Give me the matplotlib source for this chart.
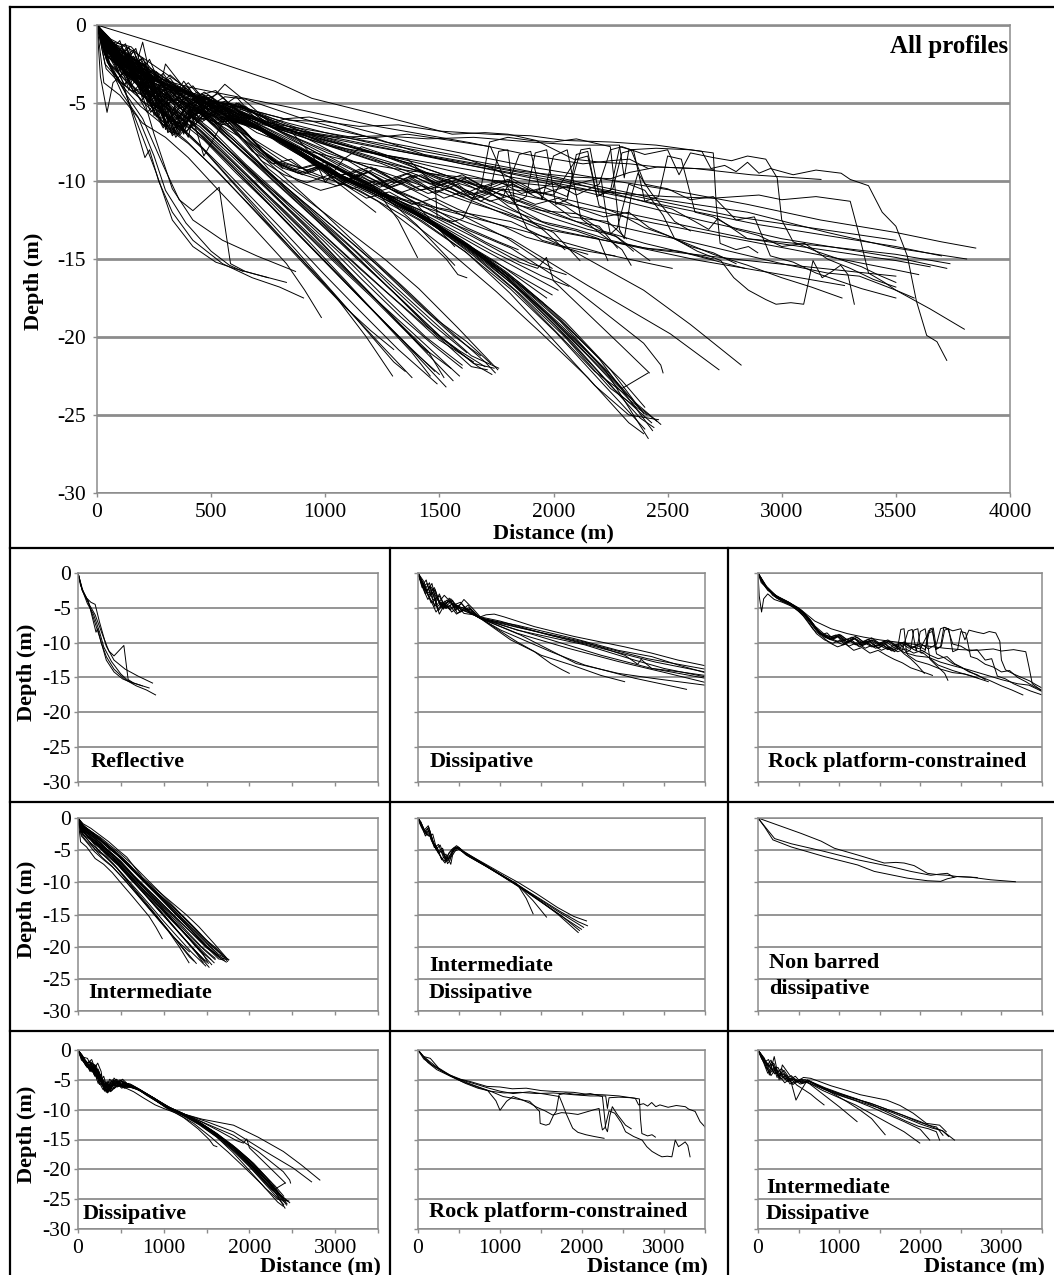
import matplotlib
matplotlib.use("Agg")
import matplotlib.pyplot as plt
from matplotlib.lines import Line2D
from matplotlib.ticker import MultipleLocator, FuncFormatter

plt.rcParams["font.family"] = ["Liberation Serif", "DejaVu Serif"]
plt.rcParams["axes.unicode_minus"] = False

# ---------------------------------------------------------------- data
# each profile is a list of (distance m, depth m) vertices

reflective = [
    [(0, 0), (30, -1.8), (100, -3.6), (150, -4.2), (200, -4.5), (250, -7.0), (330, -10.5), (420, -12.5),
     (550, -13.8), (700, -14.8), (870, -15.8)],
    [(0, 0), (50, -2.5), (120, -4.0), (170, -6.5), (210, -8.5), (230, -8.0), (270, -10.0), (330, -12.0),
     (420, -13.8), (550, -15.3), (680, -16.2), (800, -16.8), (905, -17.5)],
    [(0, 0), (60, -2.7), (130, -4.5), (200, -6.0), (290, -9.0), (360, -11.2), (420, -11.9), (535, -10.4),
     (585, -15.3), (650, -15.8), (750, -16.2)],
    [(0, 0), (50, -2.5), (120, -4.2), (200, -7.2), (260, -9.5), (330, -12.5), (420, -14.2), (520, -15.2),
     (600, -15.6), (700, -16.0), (830, -16.5)],
    [(0, 0), (45, -2.3), (110, -4.4), (180, -5.9), (250, -8.4), (300, -10.6), (390, -12.7), (500, -14.5),
     (580, -15.4), (640, -15.8)],
]

dissipative_a = [
    [(0, 0), (70, -1.2), (110, -2.6), (170, -1.5), (230, -4.6), (320, -3.2), (400, -4.2), (460, -5.4), (560, -3.8),
     (660, -5.0), (760, -6.3), (830, -6.0), (930, -5.9), (1050, -6.3), (1420, -7.7), (1900, -9.1), (2230, -9.9),
     (2520, -10.6), (2850, -11.5), (3170, -12.5), (3500, -13.3), (3700, -13.9), (3850, -14.3)],
    [(0, 0), (50, -1.8), (100, -1.0), (150, -3.2), (210, -2.4), (280, -5.0), (350, -3.9), (430, -4.6), (520, -4.2),
     (620, -5.6), (760, -6.5), (1210, -7.5), (1900, -9.4), (2440, -11.1), (2850, -12.0), (3200, -13.3),
     (3500, -14.3), (3810, -15.0)],
    [(0, 0), (60, -2.2), (120, -3.8), (180, -2.8), (250, -5.4), (330, -4.0), (410, -5.6), (500, -4.8), (600, -5.3),
     (700, -6.0), (780, -6.6), (1210, -7.8), (2030, -9.9), (2520, -11.8), (2620, -12.6), (2680, -13.1),
     (2720, -12.4), (2850, -13.7), (3200, -14.2), (3500, -14.7), (3737, -15.3)],
    [(0, 0), (40, -1.2), (90, -3.0), (140, -1.9), (200, -3.6), (260, -5.9), (330, -4.4), (400, -4.0), (480, -5.8),
     (560, -5.3), (650, -5.9), (760, -6.4), (1210, -8.2), (2030, -10.3), (2640, -12.5), (3000, -13.7),
     (3500, -14.9), (3723, -15.6)],
    [(0, 0), (80, -2.4), (140, -1.4), (200, -4.8), (260, -3.0), (330, -4.9), (420, -3.9), (510, -5.6), (610, -4.6),
     (700, -6.1), (770, -6.6), (1010, -7.45), (1620, -9.6), (2230, -11.8), (2850, -13.7), (3500, -15.1),
     (3650, -15.5)],
    [(0, 0), (60, -1.4), (130, -3.3), (190, -2.2), (250, -4.0), (310, -5.2), (380, -3.6), (450, -5.0), (530, -4.4),
     (630, -5.7), (760, -6.5), (1210, -8.65), (1830, -10.8), (2440, -12.7), (3050, -14.4), (3500, -15.7),
     (3600, -16.0)],
    [(0, 0), (70, -2.0), (150, -3.8), (230, -4.9), (300, -4.1), (390, -5.3), (470, -4.6), (570, -5.5), (680, -5.9),
     (760, -6.5), (1010, -8.2), (1620, -11.3), (2030, -13.2), (2640, -15.1), (3000, -16.0), (3275, -16.7)],
    [(0, 0), (50, -1.6), (120, -2.9), (200, -2.1), (270, -4.5), (350, -5.0), (440, -4.3), (540, -5.4), (650, -5.2),
     (760, -6.5), (1210, -9.9), (1500, -11.8), (1870, -13.2), (2230, -14.7), (2520, -15.6)],
    [(0, 0), (60, -1.9), (140, -3.5), (220, -5.6), (300, -4.3), (380, -5.1), (470, -4.6), (560, -5.8), (680, -6.0),
     (770, -6.6), (1130, -9.6), (1420, -11.3), (1620, -13.0), (1760, -13.9), (1845, -14.4)],
    [(0, 0), (90, -2.6), (160, -2.0), (240, -3.9), (320, -4.7), (400, -3.7), (480, -5.1), (560, -4.9), (650, -5.5),
     (760, -6.5), (1250, -8.9), (1930, -13.0), (2440, -14.4), (2850, -15.1), (3500, -16.1)],
    [(0, 0), (50, -2.1), (110, -1.5), (180, -3.9), (260, -3.3), (340, -5.1), (420, -4.4), (520, -5.6), (620, -5.0),
     (760, -6.4), (1100, -7.4), (1700, -9.2), (2300, -11.0), (2900, -12.8), (3500, -14.2), (3700, -14.8)],
    [(0, 0), (40, -0.9), (100, -2.4), (160, -4.3), (240, -3.6), (310, -5.0), (390, -4.7), (470, -5.9), (560, -5.1),
     (660, -5.8), (760, -6.3), (1000, -6.9), (1600, -8.9), (2200, -10.5), (2800, -12.3), (3500, -13.8)],
]

rock_platform_a = [
    [(0, 0), (60, -1.5), (120, -2.5), (230, -3.4), (390, -4.3), (520, -5.3), (640, -6.7), (730, -8.2), (810, -9.0),
     (900, -9.6), (980, -9.1), (1060, -10.2), (1150, -9.6), (1240, -10.4), (1330, -9.8), (1420, -10.6),
     (1510, -10.1), (1600, -10.9), (1690, -10.3), (1780, -11.0), (1850, -8.3), (1900, -8.1), (1950, -11.2),
     (2000, -8.4), (2060, -8.0), (2120, -12.4), (2200, -13.3), (2300, -14.4), (2340, -15.4)],
    [(0, 0), (40, -1.4), (100, -1.9), (180, -3.2), (300, -4.1), (420, -4.6), (560, -6.2), (680, -8.1), (770, -8.9),
     (850, -8.6), (930, -9.5), (1010, -9.0), (1100, -10.0), (1190, -9.4), (1280, -10.3), (1370, -9.7),
     (1460, -10.5), (1550, -10.0), (1640, -11.1), (1720, -10.7), (1800, -11.6), (1880, -12.3), (1960, -13.2),
     (2050, -14.4)],
    [(0, 0), (80, -1.7), (200, -3.1), (350, -4.0), (500, -5.0), (700, -6.9), (900, -8.0), (1100, -8.7),
     (1300, -9.2), (1500, -9.6), (1700, -9.9), (1900, -10.2), (2100, -10.5), (2300, -10.8), (2500, -11.0),
     (2700, -11.1), (2900, -10.9), (3000, -11.2), (3150, -11.0), (3300, -11.3), (3340, -13.5), (3380, -15.9),
     (3450, -16.5), (3500, -17.0), (3580, -17.5)],
    [(0, 0), (100, -1.9), (230, -3.4), (390, -4.3), (520, -5.3), (640, -6.7), (760, -8.6), (900, -9.4),
     (1000, -9.9), (1100, -9.5), (1200, -10.3), (1300, -9.9), (1400, -10.6), (1500, -10.4), (1600, -11.0),
     (1700, -10.6), (1800, -11.4), (1950, -11.9), (2100, -12.1), (2250, -12.8), (2400, -13.3), (2600, -13.9),
     (2800, -14.6), (3000, -15.3), (3200, -15.9), (3340, -16.1), (3500, -17.0), (3650, -18.2), (3800, -19.5)],
    [(0, 0), (90, -1.8), (220, -3.3), (380, -4.2), (540, -5.6), (700, -7.6), (820, -8.8), (920, -9.3),
     (1020, -8.9), (1120, -9.8), (1220, -9.2), (1320, -10.1), (1420, -9.6), (1520, -10.4), (1620, -9.8),
     (1720, -10.6), (1820, -10.2), (1920, -11.0), (2050, -11.6), (2216, -13.2), (2400, -14.0), (2600, -14.7),
     (2838, -15.6)],
    [(0, 0), (100, -2.0), (240, -3.5), (400, -4.4), (540, -5.4), (650, -6.8), (740, -8.3), (820, -9.2),
     (950, -9.8), (1050, -10.3), (1150, -9.8), (1250, -10.6), (1350, -10.1), (1450, -10.8), (1550, -10.4),
     (1650, -11.2), (1720, -10.8), (1760, -8.1), (1800, -8.0), (1830, -11.4), (1880, -11.0), (1920, -8.2),
     (1970, -8.0), (2010, -11.5), (2060, -11.2), (2100, -8.3), (2150, -8.1), (2190, -11.0), (2250, -10.6),
     (2290, -7.8), (2340, -8.0), (2400, -10.2), (2500, -10.5), (2600, -11.2), (2700, -11.0), (2800, -12.5),
     (2880, -12.3), (2950, -14.8), (3050, -15.2), (3150, -15.9), (3250, -16.4), (3350, -16.9), (3500, -17.5)],
    [(0, 0), (70, -1.6), (180, -3.0), (330, -4.0), (480, -5.0), (580, -6.0), (680, -7.6), (780, -8.8), (880, -9.5),
     (980, -9.0), (1080, -10.0), (1180, -9.3), (1280, -10.4), (1380, -9.9), (1480, -10.8), (1580, -10.2),
     (1680, -11.3), (1780, -10.5), (1850, -11.8), (1950, -12.6), (2100, -13.1), (2250, -13.8), (2400, -14.3),
     (2550, -14.5), (2700, -15.0)],
    [(0, 0), (110, -2.0), (250, -3.6), (410, -4.5), (530, -5.4), (660, -7.0), (760, -8.6), (860, -9.3),
     (960, -8.9), (1060, -9.7), (1160, -9.2), (1260, -10.0), (1360, -9.5), (1460, -10.2), (1560, -9.8),
     (1660, -10.5), (1760, -10.0), (1860, -10.8), (1960, -10.4), (2060, -11.0), (2120, -8.0), (2160, -7.9),
     (2200, -10.9), (2260, -10.5), (2300, -8.2), (2350, -8.0), (2400, -11.3), (2460, -11.0), (2500, -8.4),
     (2560, -8.6), (2620, -12.0), (2700, -12.3), (2800, -13.1), (2900, -13.5), (3000, -14.2), (3100, -14.0),
     (3200, -15.0), (3300, -15.6), (3400, -16.3), (3500, -16.8)],
    [(0, 0), (80, -1.8), (210, -3.3), (370, -4.2), (510, -5.2), (630, -6.6), (720, -8.0), (800, -8.9), (900, -9.5),
     (1000, -9.0), (1100, -9.9), (1200, -9.4), (1300, -10.1), (1400, -9.6), (1500, -10.3), (1600, -9.8),
     (1700, -10.6), (1800, -10.0), (1900, -10.8), (2000, -10.1), (2100, -10.9), (2200, -10.2), (2250, -8.0),
     (2300, -7.8), (2400, -8.3), (2500, -8.0), (2550, -9.6), (2600, -8.2), (2700, -8.5), (2780, -8.7),
     (2850, -8.4), (2930, -8.6), (2980, -9.8), (3000, -12.5), (3050, -13.9), (3150, -14.5), (3250, -15.0),
     (3350, -15.5), (3420, -16.0), (3500, -16.5)],
    [(0, 0), (100, -2.1), (230, -3.6), (380, -4.5), (520, -5.6), (620, -7.0), (720, -8.7), (820, -9.6),
     (920, -10.1), (1020, -9.6), (1120, -10.5), (1220, -10.0), (1320, -10.8), (1420, -10.3), (1520, -11.1),
     (1620, -10.6), (1720, -11.3), (1820, -10.9), (1920, -11.5), (2020, -11.1), (2120, -11.8), (2220, -12.3),
     (2330, -12.0), (2420, -13.0), (2550, -13.8), (2700, -14.7), (2850, -15.4), (3000, -16.2), (3130, -16.8),
     (3264, -17.5)],
    [(0, 0), (60, -1.6), (150, -2.6), (280, -3.7), (420, -4.6), (560, -5.8), (700, -8.0), (780, -9.0),
     (880, -10.0), (980, -10.6), (1080, -10.2), (1180, -11.1), (1280, -10.7), (1380, -11.5), (1480, -11.1),
     (1580, -11.8), (1680, -12.4), (1780, -12.9), (1880, -13.6), (1980, -14.0), (2080, -14.4), (2150, -14.7)],
    [(0, 0), (15, -3.3), (44, -5.6), (70, -3.7), (120, -3.0), (200, -3.8), (300, -4.2), (420, -4.8), (560, -6.0),
     (700, -7.8), (800, -8.8), (900, -9.2), (1000, -8.8), (1100, -9.6), (1200, -9.1), (1300, -9.9), (1400, -9.3),
     (1500, -10.1), (1600, -9.6), (1700, -10.4), (1800, -9.9), (1900, -10.6), (2000, -10.9), (2100, -8.6),
     (2150, -8.4), (2200, -11.6), (2300, -12.2), (2400, -13.0), (2500, -13.5), (2600, -14.2), (2700, -14.6),
     (2800, -15.3)],
]

intermediate = [
    [(0, 0), (60, -0.9), (150, -1.6), (250, -2.6), (360, -3.7), (470, -5.0), (570, -6.1), (750, -9.2), (920, -11.2),
     (1100, -13.2), (1260, -15.0), (1410, -16.9), (1580, -19.4), (1756, -22.1)],
    [(0, 0), (50, -1.2), (140, -2.0), (230, -2.9), (340, -4.5), (450, -5.6), (600, -7.4), (780, -9.8), (950, -11.9),
     (1120, -14.0), (1300, -16.3), (1480, -18.8), (1620, -20.3), (1725, -21.7)],
    [(0, 0), (40, -1.5), (120, -2.4), (210, -3.1), (300, -4.7), (420, -5.9), (560, -7.8), (720, -10.0), (900, -12.2),
     (1080, -14.6), (1260, -17.0), (1440, -19.3), (1590, -20.9), (1700, -21.9)],
    [(0, 0), (70, -1.8), (160, -2.7), (260, -3.9), (380, -5.3), (500, -6.7), (650, -8.9), (800, -10.9), (980, -13.3),
     (1150, -15.6), (1320, -17.8), (1500, -20.2), (1650, -21.6)],
    [(0, 0), (30, -1.3), (100, -2.2), (190, -3.8), (280, -4.3), (390, -5.9), (520, -7.6), (680, -9.9), (850, -12.4),
     (1020, -14.8), (1200, -17.3), (1380, -19.7), (1588, -22.5)],
    [(0, 0), (50, -2.0), (130, -3.1), (220, -4.2), (320, -5.5), (430, -6.7), (560, -8.6), (700, -10.7), (860, -13.1),
     (1020, -15.5), (1180, -17.9), (1350, -20.4), (1529, -23.2)],
    [(0, 0), (40, -2.2), (110, -3.3), (200, -4.9), (300, -5.8), (410, -7.1), (540, -9.0), (680, -11.1), (830, -13.4),
     (990, -15.9), (1150, -18.3), (1320, -20.8), (1490, -23.0)],
    [(0, 0), (30, -3.7), (100, -4.5), (200, -6.3), (300, -7.2), (400, -8.5), (520, -10.4), (630, -12.1), (730, -13.7),
     (830, -15.3), (910, -17.0), (983, -18.75)],
    [(0, 0), (60, -2.6), (150, -3.4), (240, -5.0), (340, -6.3), (460, -7.9), (600, -10.2), (750, -12.7), (900, -15.1),
     (1050, -17.5), (1180, -20.0), (1295, -22.5)],
    [(0, 0), (80, -1.4), (180, -2.3), (290, -3.5), (400, -4.9), (520, -6.3), (680, -8.5), (860, -10.8), (1040, -13.0),
     (1220, -15.3), (1400, -17.8), (1560, -19.9), (1680, -21.2)],
    [(0, 0), (50, -1.0), (130, -1.9), (240, -3.2), (350, -4.3), (470, -5.8), (620, -7.9), (790, -10.0), (960, -12.3),
     (1130, -14.5), (1300, -16.9), (1470, -19.2), (1620, -21.0)],
    [(0, 0), (45, -1.7), (120, -2.9), (210, -3.6), (310, -5.1), (420, -6.3), (560, -8.3), (720, -10.6), (880, -12.9),
     (1040, -15.2), (1200, -17.4), (1330, -19.3), (1450, -21.0)],
    [(0, 0), (70, -2.3), (160, -3.6), (250, -4.6), (350, -6.0), (470, -7.4), (610, -9.5), (760, -11.6), (920, -14.0),
     (1080, -16.4), (1230, -18.6), (1360, -20.5), (1480, -22.2)],
    [(0, 0), (35, -1.9), (90, -2.6), (180, -3.4), (260, -4.4), (370, -5.7), (500, -7.5), (660, -9.7), (830, -12.0),
     (1000, -14.4), (1170, -16.8), (1330, -19.2), (1450, -20.9), (1520, -22.6)],
    [(0, 0), (50, -1.3), (140, -2.3), (240, -3.3), (350, -4.6), (460, -5.8), (610, -7.8), (780, -10.1), (960, -12.5),
     (1140, -15.0), (1320, -17.4), (1500, -19.9), (1650, -21.7), (1740, -22.0)],
    [(0, 0), (60, -1.5), (160, -2.8), (270, -3.9), (380, -5.5), (500, -6.9), (650, -9.1), (820, -11.5), (990, -13.8),
     (1160, -16.3), (1330, -18.7), (1480, -20.6), (1600, -22.0)],
    [(0, 0), (40, -2.8), (110, -3.9), (190, -5.2), (290, -6.4), (400, -7.6), (530, -9.4), (670, -11.6), (810, -13.8),
     (950, -16.0), (1080, -18.0), (1200, -19.6), (1300, -20.8)],
    [(0, 0), (55, -1.1), (150, -2.1), (260, -3.0), (370, -4.2), (490, -5.5), (640, -7.3), (810, -9.6), (990, -12.0),
     (1170, -14.5), (1350, -16.9), (1530, -19.4), (1700, -21.6), (1745, -22.3)],
    [(0, 0), (65, -2.0), (150, -2.9), (250, -4.3), (360, -5.1), (480, -6.6), (630, -8.8), (790, -11.1), (950, -13.4),
     (1110, -15.9), (1270, -18.3), (1420, -20.6), (1550, -22.0)],
    [(0, 0), (45, -2.4), (120, -3.5), (220, -4.8), (330, -6.0), (450, -7.7), (580, -9.8), (720, -12.0), (870, -14.4),
     (1020, -16.9), (1170, -19.4), (1300, -21.6), (1350, -22.2)],
    [(0, 0), (55, -1.6), (140, -2.5), (235, -3.7), (340, -5.0), (455, -6.4), (600, -8.3), (760, -10.5), (930, -12.8),
     (1100, -15.1), (1270, -17.6), (1440, -20.0), (1600, -21.8)],
    [(0, 0), (45, -2.0), (125, -3.0), (215, -4.0), (320, -5.3), (440, -6.9), (580, -8.9), (730, -11.1), (890, -13.5),
     (1050, -15.9), (1210, -18.3), (1370, -20.7), (1500, -22.4)],
    [(0, 0), (60, -1.3), (150, -2.2), (250, -3.4), (360, -4.7), (480, -6.0), (630, -8.0), (800, -10.3), (970, -12.6),
     (1140, -14.9), (1310, -17.3), (1480, -19.8), (1640, -21.9), (1710, -22.1)],
    [(0, 0), (35, -2.5), (100, -3.6), (180, -4.6), (280, -6.1), (390, -7.4), (520, -9.3), (660, -11.4), (810, -13.7),
     (960, -16.0), (1110, -18.4), (1250, -20.6), (1380, -22.6)],
    [(0, 0), (70, -1.6), (170, -2.5), (280, -3.6), (390, -4.8), (510, -6.2), (660, -8.2), (830, -10.6), (1000, -12.9),
     (1170, -15.3), (1340, -17.7), (1510, -20.1), (1670, -21.9), (1730, -22.4)],
    [(0, 0), (50, -1.8), (130, -2.6), (225, -3.8), (330, -5.4), (450, -6.5), (590, -8.4), (750, -10.6), (910, -12.9),
     (1070, -15.3), (1230, -17.7), (1390, -20.2), (1560, -22.8)],
    [(0, 0), (40, -1.0), (120, -2.1), (220, -3.1), (330, -4.0), (440, -5.2), (590, -7.1), (760, -9.5), (940, -11.9),
     (1120, -14.3), (1300, -16.7), (1480, -19.1), (1640, -21.2), (1760, -22.0)],
    [(0, 0), (65, -2.2), (150, -3.2), (245, -4.5), (350, -5.8), (470, -7.2), (610, -9.2), (770, -11.5), (930, -13.9),
     (1090, -16.4), (1240, -18.8), (1380, -21.0), (1460, -22.5)],
]

inter_dissipative_a = [
    [(0, 0), (40, -0.8), (80, -2.1), (120, -1.6), (160, -3.4), (240, -5.2), (300, -4.7), (360, -7.1), (390, -6.6),
     (430, -4.7), (490, -4.5), (570, -5.5), (810, -7.3), (1020, -8.9), (1220, -10.5), (1320, -12.5), (1404, -14.9)],
    [(0, 0), (30, -1.1), (70, -1.7), (110, -2.7), (150, -2.2), (200, -4.4), (260, -5.7), (320, -6.7), (350, -6.0),
     (410, -4.9), (470, -4.3), (560, -5.2), (800, -7.1), (1000, -8.7), (1200, -10.2), (1400, -12.8), (1567, -15.4)],
    [(0, 0), (50, -1.3), (90, -2.8), (130, -2.0), (180, -3.9), (230, -4.5), (280, -6.2), (330, -7.0), (380, -5.4),
     (440, -4.8), (500, -4.6), (580, -5.7), (820, -7.4), (1030, -9.0), (1230, -10.6), (1450, -12.5), (1700, -14.9),
     (1954, -17.8)],
    [(0, 0), (35, -0.6), (75, -1.9), (125, -1.2), (170, -3.2), (220, -4.9), (270, -4.2), (320, -5.9), (370, -6.4),
     (420, -5.0), (480, -4.7), (560, -5.3), (800, -7.0), (1020, -8.6), (1220, -10.0), (1450, -11.8), (1700, -13.9),
     (1900, -15.3), (2055, -16.0)],
    [(0, 0), (45, -1.0), (95, -2.3), (140, -1.8), (190, -4.0), (250, -5.5), (300, -5.0), (340, -6.8), (400, -5.9),
     (450, -4.6), (520, -5.0), (600, -5.8), (830, -7.5), (1040, -9.1), (1250, -10.7), (1480, -12.5), (1730, -14.5),
     (1950, -16.1), (2067, -16.75)],
    [(0, 0), (40, -1.4), (85, -2.5), (130, -1.4), (180, -3.6), (240, -4.8), (290, -6.5), (340, -5.6), (400, -7.2),
     (430, -5.2), (500, -4.9), (580, -5.6), (820, -7.4), (1020, -9.0), (1230, -10.7), (1470, -12.8), (1720, -15.0),
     (1994, -17.3)],
    [(0, 0), (30, -0.7), (80, -1.9), (130, -2.8), (180, -2.5), (230, -5.0), (290, -5.3), (350, -6.4), (410, -5.5),
     (470, -4.5), (540, -5.2), (620, -6.0), (840, -7.6), (1050, -9.2), (1260, -10.9), (1500, -13.0), (1750, -15.2),
     (1970, -17.5)],
    [(0, 0), (50, -1.5), (100, -2.4), (150, -2.9), (200, -4.6), (250, -4.1), (310, -6.1), (360, -6.7), (420, -5.8),
     (480, -4.6), (560, -5.3), (800, -7.2), (1010, -8.8), (1210, -10.3), (1440, -12.3), (1680, -14.3), (1880, -15.9),
     (2020, -17.0)],
]

non_barred = [
    [(0, 0), (532, -2.4), (778, -3.6), (941, -4.7), (1228, -5.75), (1556, -7.0), (1700, -6.9), (1801, -7.0),
     (1924, -7.4), (2088, -8.6), (2210, -8.8), (2333, -8.9), (2456, -9.1), (2620, -9.2), (2865, -9.6),
     (3172, -9.9)],
    [(0, 0), (102, -1.6), (205, -3.2), (409, -4.0), (819, -5.2), (1228, -6.5), (1637, -7.55), (1883, -8.3),
     (2129, -8.9), (2250, -8.7), (2333, -8.6), (2415, -9.2)],
    [(0, 0), (82, -1.4), (184, -3.4), (409, -4.5), (819, -6.0), (1228, -7.3), (1433, -8.3), (1842, -9.35),
     (2088, -9.75), (2251, -9.85), (2333, -9.45), (2456, -9.1), (2702, -9.25)],
]

dissipative_b = [
    [(0, 0), (60, -1.2), (110, -1.4), (150, -2.6), (190, -3.1), (230, -2.2), (270, -3.6), (300, -6.7), (340, -5.2),
     (380, -7.0), (420, -4.7), (480, -5.6), (540, -6.4), (650, -6.1), (800, -7.6), (1000, -9.3), (1200, -10.6),
     (1450, -11.6), (1814, -12.6), (2100, -14.6), (2395, -17.0), (2600, -19.2), (2822, -21.8)],
    [(0, 0), (50, -1.6), (100, -2.4), (140, -1.9), (190, -4.2), (240, -3.5), (290, -5.4), (330, -6.2), (370, -4.9),
     (430, -5.8), (500, -5.1), (580, -5.9), (680, -6.3), (850, -7.9), (1050, -9.5), (1250, -10.8), (1500, -12.0),
     (1814, -13.7), (2150, -16.7), (2512, -19.8), (2725, -22.1)],
    [(0, 0), (40, -0.9), (90, -2.0), (130, -3.1), (180, -2.6), (220, -4.8), (270, -4.0), (310, -6.9), (350, -6.5),
     (400, -5.0), (460, -5.5), (520, -4.9), (600, -6.0), (700, -6.6), (880, -8.0), (1080, -9.7), (1280, -11.0),
     (1520, -12.5), (1814, -14.3), (2100, -17.0), (2395, -20.4), (2470, -21.8), (2480, -22.3)],
    [(0, 0), (70, -1.8), (120, -2.9), (170, -2.2), (230, -3.9), (280, -6.0), (320, -5.4), (360, -6.8), (410, -5.5),
     (470, -6.1), (550, -5.4), (640, -6.3), (750, -6.9), (900, -8.2), (1050, -9.6), (1250, -10.9), (1450, -12.4),
     (1650, -14.4), (1850, -16.5), (2050, -19.0), (2250, -22.1), (2395, -24.9)],
    [(0, 0), (45, -1.3), (100, -2.7), (150, -3.4), (200, -2.9), (250, -4.6), (300, -6.4), (340, -6.9), (390, -5.6),
     (450, -4.9), (510, -5.8), (590, -5.6), (690, -6.5), (850, -7.8), (1000, -9.3), (1200, -10.6), (1400, -12.0),
     (1600, -13.8), (1800, -15.9), (2000, -18.4), (2200, -21.4), (2434, -26.0)],
    [(0, 0), (55, -1.0), (105, -2.2), (160, -1.6), (210, -3.6), (260, -5.3), (300, -4.4), (345, -6.6), (400, -6.1),
     (460, -5.2), (530, -6.0), (610, -5.7), (720, -6.6), (880, -8.0), (1040, -9.5), (1230, -10.8), (1430, -12.2),
     (1630, -14.1), (1830, -16.4), (2030, -19.0), (2230, -22.2), (2415, -26.5)],
    [(0, 0), (35, -1.1), (85, -1.8), (135, -2.9), (185, -3.4), (235, -5.6), (285, -4.8), (330, -7.1), (375, -6.4),
     (430, -5.7), (490, -5.0), (570, -6.1), (680, -6.4), (840, -7.7), (1010, -9.4), (1200, -10.7), (1400, -12.2),
     (1600, -14.0), (1780, -16.0), (1960, -18.4), (2150, -21.2), (2330, -24.0), (2453, -25.4)],
    [(0, 0), (65, -1.5), (115, -2.5), (165, -3.7), (215, -3.0), (265, -5.1), (315, -6.0), (365, -5.3), (420, -6.5),
     (480, -5.6), (550, -6.2), (630, -5.9), (730, -6.7), (890, -8.1), (1060, -9.7), (1260, -11.0), (1460, -12.7),
     (1650, -14.8), (1830, -17.0), (2000, -19.5), (2180, -22.2), (2318, -23.7)],
    [(0, 0), (50, -1.7), (95, -2.3), (150, -2.0), (195, -4.4), (245, -3.7), (290, -5.9), (335, -6.7), (385, -5.2),
     (440, -6.1), (500, -5.3), (570, -5.9), (680, -6.4), (840, -7.8), (1000, -9.3), (1200, -10.5), (1380, -11.8),
     (1560, -13.5), (1750, -15.6), (1950, -18.2), (2150, -21.0), (2300, -23.3), (2415, -22.3)],
    [(0, 0), (40, -1.4), (90, -2.6), (140, -3.3), (190, -2.4), (240, -4.3), (295, -6.1), (340, -5.7), (390, -6.9),
     (450, -5.4), (520, -5.9), (600, -6.2), (710, -6.6), (870, -8.0), (1030, -9.5), (1220, -10.7), (1420, -12.3),
     (1620, -14.3), (1820, -16.6), (2010, -19.3), (2200, -22.3), (2380, -25.2), (2440, -25.8)],
    [(0, 0), (60, -1.9), (110, -2.8), (160, -2.3), (205, -4.1), (255, -4.7), (305, -6.3), (350, -6.0), (400, -5.2),
     (460, -6.2), (530, -5.5), (610, -6.1), (720, -6.8), (880, -8.2), (1040, -9.8), (1230, -11.3), (1400, -13.2),
     (1530, -15.0), (1581, -16.0), (1620, -16.2)],
    [(0, 0), (55, -1.2), (100, -2.0), (150, -3.0), (200, -3.5), (250, -5.0), (300, -5.6), (350, -7.0), (400, -6.0),
     (460, -5.4), (530, -6.3), (620, -6.0), (730, -6.9), (890, -8.1), (1050, -9.5), (1250, -10.8), (1450, -12.1),
     (1650, -13.6), (1850, -15.2), (1930, -15.6), (1969, -14.9), (2000, -16.4), (2150, -18.5), (2300, -20.6),
     (2420, -22.3)],
    [(0, 0), (45, -0.8), (90, -2.2), (140, -2.7), (185, -3.8), (235, -3.2), (285, -5.5), (330, -6.3), (380, -6.6),
     (430, -5.1), (500, -5.7), (580, -6.0), (690, -6.5), (850, -7.9), (1010, -9.4), (1200, -10.6), (1400, -12.1),
     (1600, -13.9), (1800, -16.2), (2000, -18.9), (2200, -21.9), (2350, -24.1), (2470, -25.6)],
    [(0, 0), (50, -1.5), (105, -2.9), (155, -2.1), (205, -3.0), (250, -5.8), (300, -5.0), (345, -6.4), (395, -6.8),
     (450, -5.8), (520, -5.2), (600, -6.0), (700, -6.5), (860, -8.0), (1020, -9.6), (1210, -10.9), (1410, -12.5),
     (1610, -14.5), (1810, -16.9), (2010, -19.7), (2210, -22.9), (2400, -25.9)],
    [(0, 0), (40, -1.0), (95, -1.9), (145, -3.5), (195, -2.8), (245, -4.4), (295, -5.2), (345, -7.2), (390, -6.3),
     (445, -5.5), (510, -6.4), (590, -5.8), (700, -6.6), (860, -8.1), (1020, -9.5), (1210, -10.8), (1400, -12.2),
     (1590, -13.9), (1780, -15.8), (1970, -18.1), (2160, -20.8), (2300, -22.8), (2400, -24.5)],
    [(0, 0), (60, -1.6), (110, -2.4), (165, -3.1), (210, -2.5), (260, -4.9), (310, -6.5), (355, -5.8), (405, -6.6),
     (465, -6.0), (540, -5.6), (620, -6.3), (730, -6.8), (890, -8.2), (1050, -9.7), (1240, -11.0), (1430, -12.6),
     (1620, -14.6), (1810, -17.2), (2000, -20.2), (2180, -23.1), (2330, -25.0), (2460, -25.3)],
    [(0, 0), (50, -1.4), (100, -2.7), (150, -3.2), (200, -4.3), (250, -4.6), (300, -5.8), (350, -6.3), (400, -5.9),
     (470, -6.0), (560, -6.4), (650, -7.0), (760, -8.0), (900, -9.2), (1000, -9.8), (1150, -10.6), (1350, -12.3),
     (1550, -14.6), (1750, -17.1), (1950, -19.8), (2150, -22.6), (2330, -25.5), (2395, -26.2)],
    [(0, 0), (50, -1.2), (100, -2.5), (150, -2.9), (200, -4.1), (260, -5.2), (310, -6.0), (360, -6.3), (410, -5.4),
     (480, -5.7), (560, -6.0), (660, -6.4), (780, -7.2), (940, -8.6), (1100, -9.9), (1290, -11.2), (1490, -12.9),
     (1690, -15.0), (1890, -17.5), (2080, -20.3), (2270, -23.4), (2430, -25.5)],
    [(0, 0), (40, -1.7), (90, -2.1), (140, -3.6), (190, -3.0), (240, -5.2), (290, -6.6), (340, -5.5), (390, -6.2),
     (440, -5.3), (510, -6.1), (600, -6.0), (720, -6.7), (880, -8.0), (1040, -9.5), (1230, -10.8), (1430, -12.3),
     (1630, -14.2), (1830, -16.5), (2030, -19.2), (2230, -22.1), (2380, -24.6)],
    [(0, 0), (55, -1.4), (110, -2.1), (160, -3.5), (210, -3.9), (260, -4.8), (310, -6.8), (360, -7.0), (410, -5.8),
     (470, -5.5), (540, -6.2), (630, -6.1), (740, -6.9), (900, -8.2), (1060, -9.6), (1250, -10.9), (1450, -12.6),
     (1650, -14.7), (1850, -17.2), (2050, -20.0), (2250, -23.3), (2410, -25.0)],
]

rock_platform_b = [
    [(0, 0), (70, -1.1), (150, -1.4), (250, -3.0), (390, -4.2), (520, -4.9), (640, -5.3), (840, -6.1), (1000, -6.2),
     (1150, -6.5), (1320, -6.4), (1500, -6.8), (1720, -7.0), (1900, -7.1), (2050, -7.4), (2250, -7.5), (2450, -7.7),
     (2650, -8.1), (2690, -9.2), (2750, -9.0), (2800, -9.4), (2850, -8.8), (2900, -9.5), (2950, -9.2),
     (3050, -9.6), (3150, -9.3), (3260, -9.5), (3300, -9.9), (3380, -10.3), (3440, -12.0), (3500, -12.9),
     (3550, -14.8), (3590, -17.7), (3635, -19.9), (3680, -20.3), (3723, -21.5)],
    [(0, 0), (60, -1.0), (140, -1.9), (260, -3.2), (400, -4.4), (550, -5.1), (700, -5.7), (840, -6.3), (1000, -6.9),
     (1160, -7.3), (1360, -7.0), (1550, -7.4), (1724, -7.8), (1760, -9.0), (1805, -10.6), (1850, -12.0),
     (1886, -13.1), (1950, -13.8), (2047, -14.2), (2150, -14.5), (2269, -14.8)],
    [(0, 0), (80, -1.3), (170, -2.5), (300, -3.6), (450, -4.6), (600, -5.5), (760, -6.3), (900, -7.0), (1038, -7.8),
     (1200, -8.2), (1361, -8.6), (1420, -9.4), (1482, -10.3), (1490, -12.3), (1560, -12.6), (1603, -12.4),
     (1650, -11.0), (1684, -10.3), (1720, -7.5), (1800, -7.2), (1900, -7.4), (2000, -7.5), (2100, -7.3),
     (2249, -7.8), (2270, -10.5), (2289, -13.1), (2310, -13.7), (2340, -11.0), (2370, -9.5), (2430, -10.8),
     (2531, -12.6), (2600, -13.2)],
    [(0, 0), (50, -0.9), (120, -2.1), (230, -3.3), (380, -4.3), (540, -5.3), (700, -6.1), (850, -6.8), (950, -8.5),
     (1000, -10.1), (1080, -8.6), (1159, -7.8), (1260, -8.3), (1361, -8.9), (1450, -9.6), (1550, -10.2),
     (1643, -10.9), (1750, -10.5), (1845, -10.6), (1950, -10.8), (2050, -10.4), (2150, -10.0), (2208, -9.8),
     (2230, -12.0), (2249, -13.4), (2280, -13.0), (2330, -10.2), (2400, -10.6), (2480, -12.2), (2531, -13.7),
     (2630, -14.5), (2733, -15.1), (2790, -16.2), (2854, -17.0), (2930, -17.6), (2975, -17.9), (3040, -17.8),
     (3096, -17.9), (3137, -15.1), (3177, -16.2), (3220, -15.8), (3258, -15.4), (3290, -16.0), (3318, -17.9)],
    [(0, 0), (70, -1.5), (160, -2.4), (290, -3.5), (430, -4.6), (580, -5.6), (730, -6.4), (880, -6.9),
     (1050, -7.2), (1250, -7.1), (1450, -7.3), (1650, -7.2), (1900, -7.5), (2100, -7.7), (2289, -7.7),
     (2310, -9.8), (2330, -8.0), (2450, -7.9), (2600, -8.0), (2700, -8.2), (2713, -11.5), (2730, -14.0),
     (2800, -14.4), (2854, -14.2), (2895, -14.6)],
]

inter_dissipative_b = [
    [(0, 0), (80, -1.4), (140, -4.2), (200, -1.1), (260, -5.0), (300, -2.5), (390, -4.2), (470, -5.4), (560, -4.6),
     (650, -4.75), (900, -6.0), (1100, -6.8), (1262, -7.5), (1587, -8.4), (1750, -9.3), (1913, -10.6),
     (2076, -12.3), (2238, -12.6), (2320, -13.7)],
    [(0, 0), (50, -1.0), (110, -2.6), (160, -1.7), (230, -3.9), (290, -3.1), (360, -4.6), (430, -5.8), (520, -4.9),
     (610, -5.1), (800, -6.3), (1000, -7.4), (1200, -8.2), (1400, -9.0), (1600, -10.0), (1800, -11.0),
     (2000, -12.0), (2150, -12.9), (2280, -13.6), (2422, -15.1)],
    [(0, 0), (60, -1.8), (120, -3.9), (180, -2.3), (240, -4.3), (320, -3.4), (400, -5.0), (468, -8.4), (530, -6.8),
     (610, -5.0), (800, -6.5), (1000, -7.6), (1200, -8.5), (1400, -9.6), (1600, -10.8), (1800, -12.0),
     (2000, -13.3), (2116, -15.1)],
    [(0, 0), (40, -0.9), (100, -2.9), (150, -3.9), (210, -2.8), (280, -4.9), (350, -4.2), (420, -5.6), (500, -5.1),
     (600, -5.3), (800, -7.4), (1000, -9.5), (1221, -12.0)],
    [(0, 0), (70, -2.1), (130, -1.6), (190, -3.6), (250, -4.1), (330, -5.5), (400, -4.7), (480, -5.9), (560, -6.6),
     (650, -7.4), (720, -8.2), (814, -9.2)],
    [(0, 0), (55, -1.2), (110, -3.2), (170, -2.0), (235, -4.6), (300, -3.8), (380, -5.2), (450, -4.8), (530, -5.5),
     (620, -5.2), (800, -6.4), (950, -7.5), (1100, -8.7), (1250, -10.0), (1400, -11.5), (1567, -14.2)],
    [(0, 0), (45, -1.5), (105, -2.2), (160, -4.3), (220, -3.1), (290, -4.4), (370, -5.3), (440, -4.9), (520, -5.7),
     (610, -5.4), (800, -6.8), (1000, -8.0), (1200, -9.2), (1400, -10.7), (1600, -12.2), (1800, -13.7),
     (1994, -15.6)],
    [(0, 0), (65, -1.3), (125, -2.4), (185, -3.4), (245, -2.9), (310, -4.6), (385, -5.0), (460, -4.4), (540, -5.6),
     (620, -5.1), (820, -6.3), (1020, -7.3), (1220, -8.2), (1420, -9.3), (1620, -10.6), (1820, -11.9),
     (1980, -12.8), (2100, -13.2), (2198, -13.7), (2238, -15.1)],
    [(0, 0), (35, -0.7), (95, -2.0), (150, -3.0), (205, -4.0), (265, -3.4), (335, -4.9), (410, -4.3), (490, -5.4),
     (580, -5.0), (780, -6.2), (980, -7.2), (1180, -8.1), (1380, -8.9), (1580, -9.9), (1780, -10.9),
     (1950, -11.9), (2100, -12.6), (2200, -12.9), (2280, -14.3)],
    [(0, 0), (75, -1.9), (135, -2.7), (195, -2.2), (255, -4.4), (320, -4.0), (395, -5.7), (470, -5.0), (550, -5.3),
     (640, -5.6), (840, -6.7), (1040, -7.7), (1240, -8.6), (1440, -9.5), (1640, -10.4), (1840, -11.5),
     (2000, -12.4), (2150, -13.1), (2270, -13.5), (2350, -14.5)],
]

# ---------------------------------------------------------------- layout
W, H = 1054, 1275
GRID = "#8c8c8c"
FS_TICK = 15.5
FS_LABEL = 16

fig = plt.figure(figsize=(W / 100, H / 100), dpi=100)


def px_axes(left, top, right, bottom):
    return fig.add_axes([left / W, 1 - bottom / H, (right - left) / W, (bottom - top) / H])


def ftext(x, y, s, **kw):
    fig.text(x / W, 1 - y / H, s, **kw)


def fline(x0, y0, x1, y1):
    fig.add_artist(Line2D([x0 / W, x1 / W], [1 - y0 / H, 1 - y1 / H], transform=fig.transFigure,
                          color="black", lw=1.6))


def draw(ax, profiles):
    for prof in profiles:
        xs = [p[0] for p in prof]
        ys = [p[1] for p in prof]
        ax.plot(xs, ys, color="black", lw=0.7, solid_joinstyle="round")


def style(ax, xmax, grid_lw):
    ax.set_xlim(0, xmax)
    ax.set_ylim(-30, 0)
    ax.xaxis.set_major_locator(MultipleLocator(500))
    ax.yaxis.set_major_locator(MultipleLocator(5))
    ax.grid(axis="y", color=GRID, lw=grid_lw)
    ax.set_axisbelow(True)
    for s in ax.spines.values():
        s.set_color(GRID)
        s.set_linewidth(1.1)
    ax.tick_params(colors=GRID, labelcolor="black", length=3, width=1.0, labelsize=FS_TICK)


# top panel: every profile
all_profiles = (reflective + dissipative_a + rock_platform_a + intermediate + inter_dissipative_a
                + non_barred + dissipative_b + rock_platform_b + inter_dissipative_b)

ax0 = px_axes(97, 25, 1010, 493)
draw(ax0, all_profiles)
style(ax0, 4000, 2.0)
ax0.tick_params(axis="x", pad=4)
ax0.tick_params(axis="y", pad=5)
ax0.xaxis.set_major_formatter(FuncFormatter(lambda v, _: f"{int(v)}"))
ax0.yaxis.set_major_formatter(FuncFormatter(lambda v, _: f"{int(v)}"))
ftext(1008, 47, "All profiles", ha="right", va="center", fontsize=18, fontweight="bold")
ftext(553, 533, "Distance (m)", ha="center", va="center", fontsize=FS_LABEL, fontweight="bold")
ftext(34, 281, "Depth (m)", ha="center", va="center", rotation=90, fontsize=FS_LABEL, fontweight="bold")

# small panels
cols = [(78, 378), (418, 705), (758, 1042)]
rows = [(573, 782), (818, 1011), (1050, 1229)]
panels = [
    [(reflective, ["Reflective"]), (dissipative_a, ["Dissipative"]),
     (rock_platform_a, ["Rock platform-constrained"])],
    [(intermediate, ["Intermediate"]), (inter_dissipative_a, ["Intermediate", "Dissipative"]),
     (non_barred, ["Non barred", "dissipative"])],
    [(dissipative_b, ["Dissipative"]), (rock_platform_b, ["Rock platform-constrained"]),
     (inter_dissipative_b, ["Intermediate", "Dissipative"])],
]
label_pos = [
    [(91, [762]), (430, [762]), (768, [762])],
    [(88, [993]), (429, [966, 993]), (769, [963, 989])],
    [(83, [1214]), (429, [1212]), (766, [1188, 1214])],
]

for r, (top, bottom) in enumerate(rows):
    for c, (left, right) in enumerate(cols):
        profiles, label = panels[r][c]
        ax = px_axes(left, top, right, bottom)
        draw(ax, profiles)
        style(ax, 3500, 1.3)
        ax.tick_params(axis="y", pad=2, labelleft=(c == 0))
        ax.yaxis.set_major_formatter(FuncFormatter(lambda v, _: f"{int(v)}"))
        if r == 2:
            ax.xaxis.set_major_formatter(
                FuncFormatter(lambda v, _: f"{int(v)}" if int(v) % 1000 == 0 else ""))
            ax.tick_params(axis="x", pad=4)
            ftext(right + 3, 1266, "Distance (m)", ha="right", va="center",
                  fontsize=FS_LABEL, fontweight="bold")
        else:
            ax.tick_params(axis="x", labelbottom=False)
        lx, lys = label_pos[r][c]
        for line, ly in zip(label, lys):
            ftext(lx, ly, line, ha="left", va="center", fontsize=FS_LABEL, fontweight="bold")
        if c == 0:
            ftext(27, (top + bottom) / 2 - 5, "Depth (m)", ha="center", va="center", rotation=90,
                  fontsize=FS_LABEL, fontweight="bold")

# panel frame and separators
fline(10, 7, 1054, 7)
fline(10, 7, 10, 1275)
fline(10, 548, 1054, 548)
fline(10, 802, 1054, 802)
fline(10, 1031, 1054, 1031)
fline(390, 548, 390, 1275)
fline(728, 548, 728, 1275)

fig.savefig("out.png", dpi=100)
